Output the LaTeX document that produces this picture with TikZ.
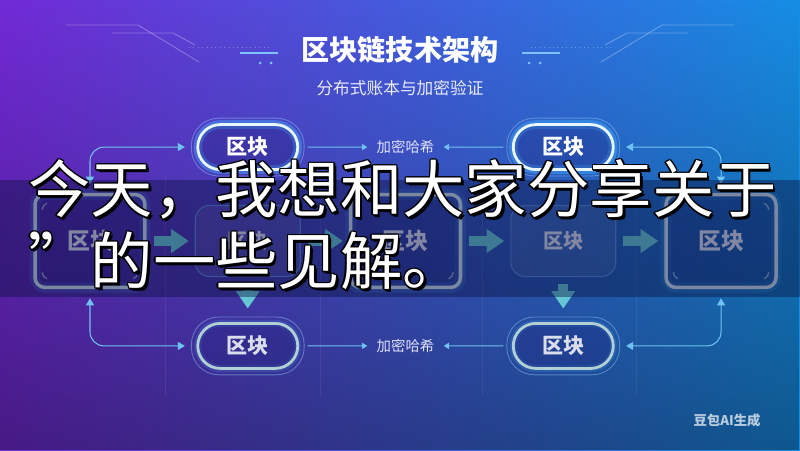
\documentclass[tikz,border=0pt]{standalone}
\usepackage{fontspec}
\newfontfamily\cjk{Noto Sans CJK SC}
\usepackage{xcolor}
\definecolor{bgleft}{RGB}{114,42,214}
\definecolor{bgmid}{RGB}{52,80,218}
\definecolor{bgright}{RGB}{22,142,228}
\definecolor{bgdeep}{RGB}{30,30,120}
\definecolor{banddark}{RGB}{8,16,62}
\definecolor{glow}{RGB}{70,170,255}
\definecolor{linkcol}{RGB}{110,195,240}
\definecolor{arrteal}{RGB}{100,198,210}
\definecolor{boxedge}{RGB}{205,222,232}
\definecolor{boxtext}{RGB}{218,222,236}
\definecolor{thinedge}{RGB}{95,150,225}
\definecolor{lowedge}{RGB}{178,208,212}
\usepackage{tikz}
\usetikzlibrary{arrows.meta,positioning,calc,fit,fadings}
\tikzset{
  ch_pill/.style={rectangle,rounded corners=0.45cm,
    minimum width=2cm,minimum height=0.9cm,
    line width=1.6pt,
    fill=bgdeep,fill opacity=0.3,text opacity=1,
    font=\cjk\bfseries\fontsize{12}{14}\selectfont},
  ch_top/.style={ch_pill,draw=white!90!cyan,text=white,
    preaction={draw=glow,line width=5pt,draw opacity=0.45}},
  ch_low/.style={ch_pill,draw=lowedge,text=boxtext,
    preaction={draw=glow,line width=4pt,draw opacity=0.18}},
  ch_ring/.style={rectangle,rounded corners=0.55cm,
    draw=glow!60!white,draw opacity=0.45,line width=0.5pt,
    inner sep=0.1cm},
  ch_glow/.style={rectangle,rounded corners=0.2cm,
    minimum width=2.2cm,minimum height=1.86cm,
    draw=boxedge,line width=2pt,
    fill=bgdeep,fill opacity=0.25,text opacity=1,
    preaction={draw=glow,line width=6pt,draw opacity=0.2},
    text=boxtext,font=\cjk\bfseries\fontsize{13}{15}\selectfont},
  ch_plain/.style={rectangle,rounded corners=0.28cm,
    minimum width=2.1cm,minimum height=1.42cm,
    draw=thinedge,draw opacity=0.8,line width=0.6pt,
    fill=white,fill opacity=0.07,text opacity=1,
    text=boxtext,font=\cjk\bfseries\fontsize{11.5}{14}\selectfont},
  ch_hash/.style={font=\cjk\fontsize{8.2}{10}\selectfont,
    text=white!88!blue,inner sep=0.18cm},
  link/.style={draw=linkcol,line width=0.6pt,rounded corners=0.28cm,
    {Triangle[length=4pt,width=4.5pt]}-{Triangle[length=4pt,width=4.5pt]},
    shorten <=0.18cm,shorten >=0.12cm},
  hashlink/.style={draw=linkcol,line width=0.6pt,
    -{Triangle[length=3pt,width=3.5pt]},shorten <=0.06cm},
  arr/.style={draw=arrteal,line width=5.5pt,
    -{Triangle[length=10pt,width=13pt]}},
  tick/.style={draw=boxedge,line width=0.8pt,draw opacity=0.6},
  grid_ln/.style={draw=white,draw opacity=0.07,line width=0.5pt},
  deco/.style={draw=white,draw opacity=0.3,line width=0.5pt},
  decobar/.style={draw=glow!70!white,line width=1.6pt},
  bigtxt/.style={font=\cjk\fontsize{35.5}{35.5}\selectfont,
    align=left,inner sep=0pt,anchor=west},
}

\begin{document}
\begin{tikzpicture}[x=0.02cm,y=0.02cm,node distance=0.96cm]
  \useasboundingbox (0,0) rectangle (800,450);
  % background
  \shade[left color=bgleft,middle color=bgmid,right color=bgright] (0,0) rectangle (800,450);
  \fill[black,fill opacity=0.38,path fading=north] (0,0) rectangle (800,450);
  \foreach \x in {165,320,482,636}
    \draw[grid_ln] (\x,275) -- (\x,55);
  % circuit lines beside the title
  \foreach \s in {1,-1}{
    \begin{scope}[shift={(400,0)},xscale=\s]
      \draw[deco] (-334,425) -- (-262,425) -- (-201,388);
      \draw[deco] (-288,417) -- (-227,417) -- (-205,405);
      \draw[deco,dotted] (-211,403) -- (-130,403);
      \draw[decobar] (-160,397) -- (-122,397);
      \fill[glow!70!white] (-140,387) circle[radius=0.03cm] (-129,387) circle[radius=0.03cm];
    \end{scope}}

  \node (title) [font=\cjk\bfseries\fontsize{16}{19}\selectfont,text=white] at (400,400) {区块链技术架构};
  \node (sub) [font=\cjk\fontsize{9.5}{12}\selectfont,text=white!92!blue] at (400,362) {分布式账本与加密验证};

  % middle row
  \node (b1) [ch_glow] at (90,209) {区块};
  \node (b2) [ch_plain,right=of b1] {区块};
  \node (b3) [ch_glow,right=of b2] {区块};
  \node (b4) [ch_plain,right=of b3] {区块};
  \node (b5) [ch_glow,right=of b4] {区块};
  \foreach \b in {b1,b3,b5}{
    \draw[tick] ($(\b.north west)+(9,-17)$) arc[start angle=180,end angle=110,radius=0.14cm];
    \draw[tick] ($(\b.north east)+(-9,-17)$) arc[start angle=0,end angle=70,radius=0.14cm];
    \draw[tick] ($(\b.south west)+(9,17)$) arc[start angle=180,end angle=250,radius=0.14cm];
    \draw[tick] ($(\b.south east)+(-9,17)$) arc[start angle=0,end angle=-70,radius=0.14cm];
  }

  % chain rows
  \node (p1) [ch_top,above=0.68cm of b2] {区块};
  \node (p2) [ch_top,above=0.68cm of b4] {区块};
  \node (q1) [ch_low,below=0.9cm of b2] {区块};
  \node (q2) [ch_low,below=0.9cm of b4] {区块};
  \foreach \n in {p1,p2,q1,q2}
    \node (ring\n) [ch_ring,fit=(\n)] {};

  \node (h1) [ch_hash] at ($(p1)!0.5!(p2)$) {加密哈希};
  \node (h2) [ch_hash] at ($(q1)!0.5!(q2)$) {加密哈希};
  \draw[hashlink] (ringp1.east) -- (h1.west);
  \draw[hashlink] (ringp2.west) -- (h1.east);
  \draw[hashlink] (ringq1.east) -- (h2.west);
  \draw[hashlink] (ringq2.west) -- (h2.east);

  % block arrows
  \foreach \a/\b in {b1/b2,b2/b3,b3/b4,b4/b5}
    \draw[arr,shorten <=0.14cm,shorten >=0.12cm] (\a.east) -- (\b.west);
  \draw[arr,shorten <=0.14cm,shorten >=0.16cm] (b2.south) -- (ringq1.north);
  \draw[arr,shorten <=0.14cm,shorten >=0.16cm] (b4.south) -- (ringq2.north);

  % side links
  \draw[link] (b1.north) |- (ringp1.west);
  \draw[link] (b5.north) |- (ringp2.east);
  \draw[link] (b1.south) |- (ringq1.west);
  \draw[link] (b5.south) |- (ringq2.east);

  % dark band with the overlay text
  \fill[banddark,fill opacity=0.42] (0,153) rectangle (800,270);
  \foreach \dx/\dy [count=\k] in {-1.5/0,1.5/0,0/1.5,0/-1.5,-1/-1,1/1,1/-1,-1/1,2.5/-2.5}
    \node (edge\k) [bigtxt,text=black] at ($(28,225)+(\dx,\dy)$) {今天，我想和大家分享关于\\[5.5pt]”的一些见解。};
  \node (say) [bigtxt,text=white] at (28,225) {今天，我想和大家分享关于\\[5.5pt]”的一些见解。};

  \node (mark) [font=\cjk\bfseries\fontsize{7.6}{9}\selectfont,text=white,text opacity=0.7] at (727,30) {豆包AI生成};
\end{tikzpicture}
\end{document}
